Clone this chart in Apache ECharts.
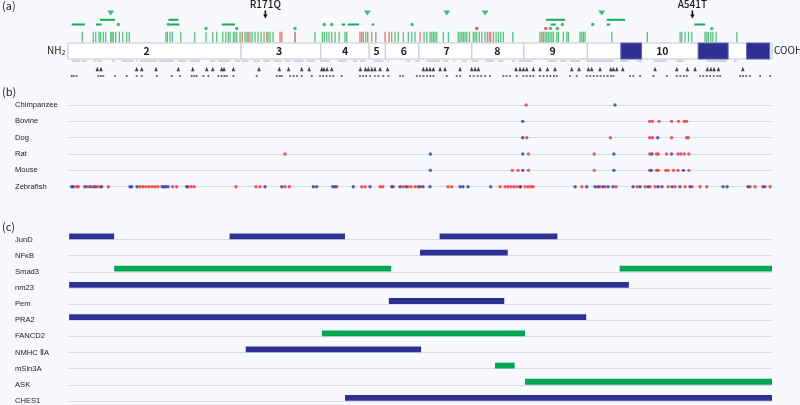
<!DOCTYPE html>
<html><head><meta charset="utf-8">
<script src="https://cdn.jsdelivr.net/npm/echarts@6.0.0/dist/echarts.min.js"></script>
<style>html,body{margin:0;padding:0;background:#f8f9fc}#c{width:800px;height:405px}</style>
</head><body><div id="c"></div>
<script>
// ---------- Panel (a): menin protein map (amino-acid positions) ----------
const exonLabels = ['2','3','4','5','6','7','8','9','10'];
const exonStart = [0,150,219,261,275,304,350,395,450];
const exonEnd = [150,219,261,275,304,350,395,450,610];
const exonLabelPos = [68,183,240,267.5,291,328,372,420,515];
const nlsStart = [479,546,588];
const nlsEnd = [497,572,608];
const mutLabels = ['R171Q','A541T'];
const mutPos = [171,541];
const greenLines = [12.4,21.9,24,26.9,28.3,30.6,32.7,37,38.1,39.3,41.3,44.5,47.4,50.9,53.1,84.9,86.1,88.4,90.4,97.7,109.8,119.6,125.4,128.9,134.1,136.7,138.9,140.4,143.3,144.7,146.2,149.1,153.4,155.1,157.7,159.5,162.1,164.7,167.3,169.9,173.3,175.1,177.7,196.7,214,220.4,222.1,224.2,226.2,228.5,231.4,234.9,240,241.5,255.9,258,263.2,280.5,283.4,286.2,290.6,294.9,297.9,300.7,308.5,310.9,313.7,315.2,316.6,318,319.5,325.2,329.6,338.2,339.7,341.2,342.6,344,345.5,347.8,351.2,352.7,354.2,356.4,358.5,361.4,363.4,368.6,370.9,372.9,375,377.2,385.4,409,411.9,413.4,414.8,416.2,417.7,419.2,420.6,423.5,424.9,429.2,432.2,433.6,443.7,445.2,446.6,448,471.2,502,530.4,531.8,534.7,537.6,540.5,552,553.5,554.9,557,558.7,561.6,579.5];
const redLines = [151,156.2,172.2,183.7,185.2,196.7,253,254.5,259.7,266.7,274.7,278.2,305,365.1,366.3,410.5];
const barsUpper = [[27.7,40.7],[87,95.6],[414.2,430.7],[466.8,482.7]];
const barsLower = [[3.2,14.7],[24.3,29.2],[88.4,96.5],[133.2,144.7],[237.2,240],[242.4,252.2],[263.2,265.4],[418.3,422.6],[466.8,469.7],[542.7,552]];
const greenDotsLow = [43.6,86.9,222.1,228.5,298.2,428.4,454.7];
const greenDotsHigh = [119.6,146.2,196.7,418,424,557.8];
const redDotsHigh = [354.2,414];
const greenTriangles = [37,259.4,328.2,361.4,462.5];
const grayMarks = [[3.2,10.4],[11.9,16.2],[21.9,24.9],[26.3,29.2],[37.9,40.7],[46.5,56.6],[59,60],[62.4,76.9],[78.3,91.3],[95.6,102.9],[105.7,114.4],[123.1,127.4],[130.3,140.4],[144.7,149.1],[150.5,156.3],[160.6,166.4],[169.2,175.1],[177.9,185.2],[188,192.4],[195.2,203.9],[206.9,214],[218.4,227],[234.2,241.5],[247.2,250.2],[253,257.4],[264.6,273.2],[277,278.2],[293.5,296.4],[300.7,305],[310.9,322.4],[325.2,329.6],[333.9,335.4],[341.2,345.5],[349.8,355.6],[361.4,368.6],[372.9,377.2],[384.5,387.4],[390.2,401.8],[416.2,423.5],[426.4,432.2],[435,443.7],[449.5,472.6],[478.4,485.6],[492.8,497.2],[507.2,518.8],[527.5,533.2],[553.5,570.8],[576.6,579.5]];
const blackTriangles = [25.4,28.6,59.5,63.9,76.3,95.6,108.1,120.2,125.4,133.2,135.2,143.3,165.5,183.1,191.1,202.5,209,219.9,221.8,224.5,228.5,253.3,257.8,260.2,263.2,266,270.4,276.9,307.9,310.9,313.7,316.6,322.4,326.7,339.7,349.8,352.7,355.6,388.2,391.7,394.6,397.5,403.2,409,415.4,422,436.5,442.8,450.9,453.8,461,470.3,472.6,475.5,480.7,508.7,527.5,536.7,543.4,554,557,559.8,563.6,584.7];
const blackDots = [3.2,5,7.5,26.3,28.5,30.6,40.7,50.9,59.5,63.9,76.9,89.9,97.1,107.2,109.5,111.5,117.3,121.6,130.3,133,135.5,137.5,143.3,163.5,180.9,183.5,185.2,192.4,195.5,198.5,202.5,211.2,218.4,221,224,227,229.9,237.2,253,255.7,258.3,261.7,266,269,273.2,277.6,287.7,290.3,302.2,305,308,311,314,316.6,328.2,336.8,339.7,348.4,351.5,355,358,361.5,365.7,377.2,380,383,388.8,394.6,397.5,400.5,403.2,409,412,415,418,421,423.5,435,440.8,449.5,452.5,455.5,458.5,461.5,464.5,467.5,470.5,472.6,487,489.9,495.7,507.2,518.8,527.5,530.5,533.5,536.1,547.7,550.5,553.5,556.5,559.5,562.7,565,582.4,585,587.7,591,599.7,608.4];

// ---------- Panel (b): conservation across species ----------
const speciesNames = ['Chimpanzee','Bovine','Dog','Rat','Mouse','Zebrafish'];
const chimpRed = [397];
const chimpBlue = [474];
const bovineRed = [504,506.5,512,523,529,534,536];
const bovineBlue = [394];
const dogRed = [397.5,470,504,506.5,523,536,537.5];
const dogBlue = [394,511];
const ratRed = [188,399,456,504,510,511.5,518.7,528.5,531,534,538];
const ratBlue = [314,394,473,506,523];
const mouseRed = [385,390,399,456,504,510,511.5,518,520,524.6,528.5,538];
const mouseBlue = [314,394,473,505.5,533.2];
const zebrafishRed = [7.5,8.9,16.7,21.4,25.4,27.7,34.9,62.4,65,67.6,70.2,72.8,75.4,78,90.7,94.2,104,106.6,109.2,145.6,162.9,166.4,188,191.8,232.9,254.5,257.4,270.4,272.7,281.9,290.3,294.6,297.2,300.7,303.3,329.3,332.5,374.4,378.7,381.3,383.9,386.5,389.1,391.7,396,398.6,401.2,403,445.2,461,465.4,474.9,493.1,500,504.4,508.7,520,526,534.7,540.8,547.7,553.5,591,595.4,604,608.4];
const zebrafishBlue = [3.2,4.6,14.7,19.1,23.4,29.2,53.7,55.2,59.8,81.5,83.2,84.9,86.7,102.9,170.7,185.2,212.6,215.5,229.4,231.4,247.2,261.7,280.5,287.7,292.9,305,307.6,313.7,339.7,342.3,346.6,366.3,392.1,439.4,449.5,456.7,459.3,463.6,468,472.3,489.6,495.7,502.6,511.3,514.7,523.4,530.3,539,567.6,571.1,589.3,602.3];

// ---------- Panel (c): interacting partners ----------
const partners = ['JunD','NF\u03baB','Smad3','nm23','Pem','PRA2','FANCD2','NMHC \u2161A','mSin3A','ASK','CHES1'];
const regionPartner = [0,0,0,1,2,2,3,4,5,6,7,8,9,10];
const regionStart = [1,140,322,305,40,478,1,278,1,220,154,370,396,240];
const regionEnd = [40,240,424,381,280,610,486,378,449,396,306,387,610,610];
const regionKind = [0,0,0,0,1,1,0,0,0,1,0,1,1,0]; // 0 blue, 1 green

// ---------- styling ----------
const BLUE = '#2e3192', GREEN = '#00a651', RED = '#ee3535', DOTBLUE = '#3439a0';
const FONT = '"Noto Sans CJK JP","Liberation Sans",Arial,sans-serif';
const LFONT = '"Liberation Sans",Arial,sans-serif';
const Y = {label:4, tri:13, barUp:19.8, barLow:24.5, dotLow:24.5, dotHigh:28.6, line:37, boxTop:43, boxBot:59, gray:61, btri:69, bdot:76};

function spanRender(y0, y1, style){
  return function(params, api){
    const a = api.coord([api.value(0), y0]);
    const b = api.coord([api.value(1), y1]);
    return {type:'rect', shape:{x:a[0], y:a[1], width:Math.max(b[0]-a[0],1), height:b[1]-a[1]}, style: Object.assign({}, style)};
  };
}
const pairs = (s,e) => s.map((v,i)=>[v, e[i]]);
const atY = (arr, y) => arr.map(v => [v, y]);
const rowPts = (lists) => { const out=[]; lists.forEach((l,i)=>l.forEach(v=>out.push([v,i]))); return out; };

const rowLabel = {align:'left', margin:53, fontSize:7.6, color:'#1a1a1a', fontFamily:LFONT, fontWeight:'normal', verticalAlign:'middle', padding:[0,0,4,0]};

const option = {
  backgroundColor:'#f8f9fc',
  animation:false,
  grid:[
    {left:68, width:704, top:0, height:85},
    {left:68, width:704, top:105, height:81.7},
    {left:68, width:704, top:239.5, height:165}
  ],
  xAxis:[0,1,2].map(g=>({gridIndex:g, type:'value', min:0, max:610, show:false})),
  yAxis:[
    {gridIndex:0, type:'value', min:0, max:85, inverse:true, show:false},
    {gridIndex:1, type:'value', min:0, max:5, interval:1, inverse:true,
     axisLine:{show:false}, axisTick:{show:false},
     splitLine:{show:true, lineStyle:{color:'#d9dce6', width:1}},
     axisLabel:Object.assign({formatter:v=>speciesNames[v]||''}, rowLabel)},
    {gridIndex:2, type:'value', min:0, max:10, interval:1, inverse:true,
     axisLine:{show:false}, axisTick:{show:false},
     splitLine:{show:true, lineStyle:{color:'#d9dce6', width:1}},
     axisLabel:Object.assign({formatter:v=>partners[v]||''}, rowLabel)}
  ],
  series:[
    {type:'custom', xAxisIndex:0, yAxisIndex:0, z:2, data:pairs(exonStart, exonEnd),
     renderItem:spanRender(Y.boxTop, Y.boxBot, {fill:'#ffffff', stroke:'#c4c7d2', lineWidth:1})},
    {type:'custom', xAxisIndex:0, yAxisIndex:0, z:3, data:pairs(nlsStart, nlsEnd),
     renderItem:spanRender(Y.boxTop, Y.boxBot, {fill:BLUE, stroke:'#6266b8', lineWidth:1})},
    {type:'custom', xAxisIndex:0, yAxisIndex:0, z:4, data:exonLabelPos.map((p,i)=>[p, exonLabels[i]]),
     renderItem:function(params, api){
       const c = api.coord([api.value(0), (Y.boxTop+Y.boxBot)/2]);
       return {type:'text', x:c[0], y:c[1], style:{text:exonLabels[params.dataIndex], fontSize:10.5, fontWeight:600, fill:'#222', fontFamily:FONT, align:'center', verticalAlign:'middle'}};
     }},
    {type:'scatter', xAxisIndex:0, yAxisIndex:0, z:3, data:atY(greenLines, Y.line), symbol:'rect', symbolSize:[1.3,10.5], itemStyle:{color:'#3dba6a', opacity:0.85}},
    {type:'scatter', xAxisIndex:0, yAxisIndex:0, z:3, data:atY(redLines, Y.line), symbol:'rect', symbolSize:[1.5,10.5], itemStyle:{color:'#f07a68', opacity:0.9}},
    {type:'custom', xAxisIndex:0, yAxisIndex:0, z:3, data:barsUpper, renderItem:spanRender(Y.barUp-1, Y.barUp+1, {fill:'#16ad55'})},
    {type:'custom', xAxisIndex:0, yAxisIndex:0, z:3, data:barsLower, renderItem:spanRender(Y.barLow-1, Y.barLow+1, {fill:'#16ad55'})},
    {type:'scatter', xAxisIndex:0, yAxisIndex:0, z:4, data:atY(greenDotsLow, Y.dotLow), symbolSize:3.5, itemStyle:{color:'#16ad55'}},
    {type:'scatter', xAxisIndex:0, yAxisIndex:0, z:4, data:atY(greenDotsHigh, Y.dotHigh), symbolSize:3.5, itemStyle:{color:'#16ad55'}},
    {type:'scatter', xAxisIndex:0, yAxisIndex:0, z:4, data:atY(redDotsHigh, Y.dotHigh), symbolSize:3.5, itemStyle:{color:RED}},
    {type:'scatter', xAxisIndex:0, yAxisIndex:0, z:4, data:atY(greenTriangles, Y.tri), symbol:'triangle', symbolRotate:180, symbolSize:[7,5], itemStyle:{color:'#16ad55'}},
    {type:'custom', xAxisIndex:0, yAxisIndex:0, z:5, data:mutPos.map(p=>[p]),
     renderItem:function(params, api){
       const t = api.coord([api.value(0), Y.label]);
       const a0 = api.coord([api.value(0), 10.5]);
       const a1 = api.coord([api.value(0), 18.5]);
       return {type:'group', children:[
         {type:'text', x:t[0], y:t[1], style:{text:mutLabels[params.dataIndex], fontSize:10, fill:'#1a1a1a', fontFamily:FONT, fontWeight:500, align:'center', verticalAlign:'middle'}},
         {type:'line', shape:{x1:a0[0], y1:a0[1], x2:a0[0], y2:a1[1]-3}, style:{stroke:'#111', lineWidth:1.6}},
         {type:'polygon', shape:{points:[[a1[0]-2.2,a1[1]-4],[a1[0]+2.2,a1[1]-4],[a1[0],a1[1]]]}, style:{fill:'#111'}}
       ]};
     }},
    {type:'custom', xAxisIndex:0, yAxisIndex:0, z:2, data:grayMarks, renderItem:spanRender(Y.gray-1, Y.gray+1, {fill:'#d3d6dd'})},
    {type:'scatter', xAxisIndex:0, yAxisIndex:0, z:3, data:atY(blackTriangles, Y.btri), symbol:'triangle', symbolSize:[3.5,4.5], itemStyle:{color:'#111'}},
    {type:'scatter', xAxisIndex:0, yAxisIndex:0, z:3, data:atY(blackDots, Y.bdot), symbol:'rect', symbolSize:[1.8,1.6], itemStyle:{color:'#222'}},
    {type:'scatter', xAxisIndex:1, yAxisIndex:1, z:4, symbolSize:3.4, itemStyle:{color:RED},
     data:rowPts([chimpRed, bovineRed, dogRed, ratRed, mouseRed, zebrafishRed])},
    {type:'scatter', xAxisIndex:1, yAxisIndex:1, z:5, symbolSize:3.4, itemStyle:{color:DOTBLUE},
     data:rowPts([chimpBlue, bovineBlue, dogBlue, ratBlue, mouseBlue, zebrafishBlue])},
    {type:'custom', xAxisIndex:2, yAxisIndex:2, z:4,
     data:regionStart.map((s,i)=>[s, regionEnd[i], regionPartner[i], regionKind[i]]),
     renderItem:function(params, api){
       const a = api.coord([api.value(0), api.value(2)]);
       const b = api.coord([api.value(1), api.value(2)]);
       return {type:'rect', shape:{x:a[0], y:a[1]-6, width:b[0]-a[0], height:5.8},
               style:{fill: api.value(3) ? GREEN : BLUE}};
     }}
  ],
  graphic:[
    {type:'text', left:2, top:0, style:{text:'(a)', fontSize:11, fill:'#222', fontFamily:FONT}},
    {type:'text', left:2, top:86, style:{text:'(b)', fontSize:11, fill:'#222', fontFamily:FONT}},
    {type:'text', left:2, top:221, style:{text:'(c)', fontSize:11, fill:'#222', fontFamily:FONT}},
    {type:'text', left:47, top:45, style:{rich:{a:{fontSize:10, fill:'#222', fontFamily:FONT}, s:{fontSize:7, fill:'#222', fontFamily:FONT, padding:[5,0,0,0]}}, text:'{a|NH}{s|2}'}},
    {type:'text', left:774, top:45, style:{text:'COOH', fontSize:10, fill:'#222', fontFamily:FONT}}
  ]
};
const chart = echarts.init(document.getElementById('c'));
chart.setOption(option);
</script>
</body></html>
